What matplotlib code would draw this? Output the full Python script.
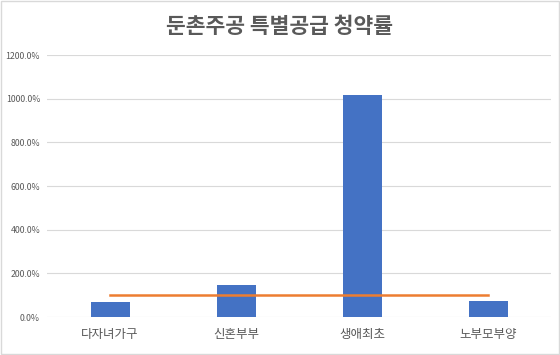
import matplotlib
matplotlib.use("Agg")
import matplotlib.pyplot as plt
from matplotlib.patches import Rectangle
from matplotlib.ticker import FuncFormatter

plt.rcParams['font.family'] = ['Noto Sans CJK KR', 'DejaVu Sans']

# Data
categories = ["다자녀가구", "신혼부부", "생애최초", "노부모부양"]
rates = [69, 147, 1017, 73]          # 청약률 (%)
baseline = [100, 100, 100, 100]      # 100% 기준선
yticks = [0, 200, 400, 600, 800, 1000, 1200]

fig = plt.figure(figsize=(5.6, 3.55), dpi=100)
ax = fig.add_axes([0.084, 0.107, 0.9, 0.738])

x = range(len(categories))
ax.bar(x, rates, width=0.31, color="#4472C4", zorder=2)
ax.plot(x, baseline, color="#ED7D31", linewidth=1.8, zorder=3)

ax.set_xlim(-0.5, 3.5)
ax.set_ylim(0, 1200)
ax.set_yticks(yticks)
ax.yaxis.set_major_formatter(FuncFormatter(lambda v, p: f"{v:.1f}%"))
ax.set_xticks(list(x))
ax.set_xticklabels(categories, fontsize=9, color="#595959")
ax.tick_params(axis="y", labelsize=6.3, labelcolor="#595959", length=0, pad=5)
ax.tick_params(axis="x", length=0, pad=8)
ax.grid(axis="y", color="#D9D9D9", linewidth=0.8, zorder=0)
for s in ax.spines.values():
    s.set_visible(False)

fig.text(0.5, 0.925, "둔촌주공 특별공급 청약률", ha="center", va="center",
         fontsize=15.5, fontweight="bold", color="#595959")

# chart border
fig.patches.append(Rectangle((0.002, 0.004), 0.996, 0.992, transform=fig.transFigure,
                             fill=False, edgecolor="#D9D9D9", linewidth=1))

fig.savefig("out.png", dpi=100)
